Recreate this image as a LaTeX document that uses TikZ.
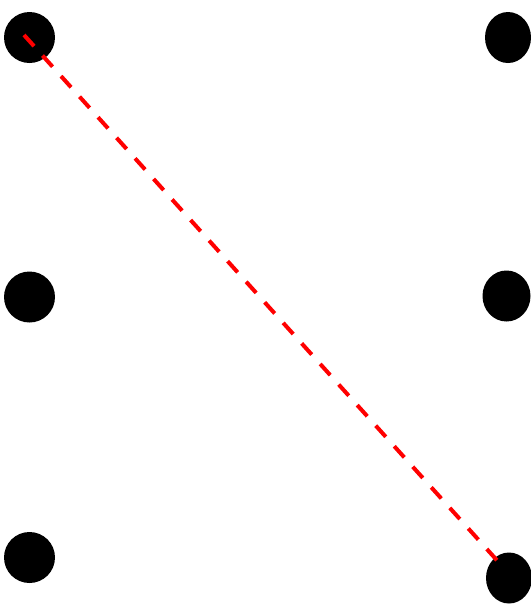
\documentclass[tikz,border=0pt]{standalone}
\usetikzlibrary{shapes.geometric}
\begin{document}
\begin{tikzpicture}[x=0.75pt,y=-0.75pt,
  dot/.style={ellipse,fill=black,inner sep=0pt,minimum width=51*0.75pt,minimum height=51*0.75pt},
  rdot/.style={ellipse,fill=black,inner sep=0pt,minimum width=#1*0.75pt,minimum height=51*0.75pt},
  link/.style={red,line width=3pt,dash pattern=on 11.25pt off 9.5pt}]
\useasboundingbox (0,0) rectangle (531,608);
\node[dot] (tl) at (29.5,37.5) {};
\node[dot] (ml) at (29.5,297) {};
\node[dot] (bl) at (29.5,557.5) {};
\node[rdot=46] (tr) at (508,37.5) {};
\node[rdot=48] (mr) at (506.5,296) {};
\node[rdot=46] (br) at (509,578) {};
\coordinate (s) at (24,35);
\coordinate (e) at (503,567);
\draw[link] (s) -- (e);
\end{tikzpicture}
\end{document}
